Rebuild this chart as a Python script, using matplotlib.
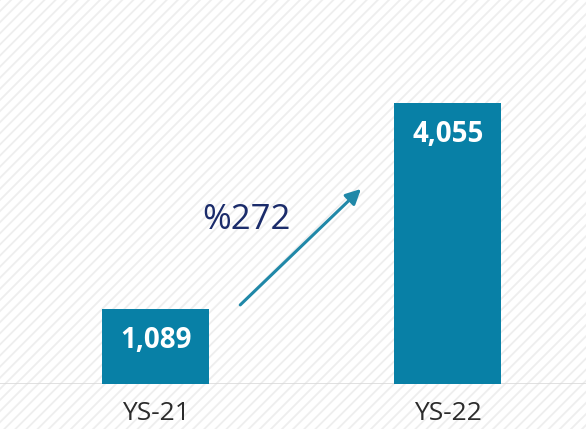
import matplotlib.pyplot as plt
from matplotlib.patches import Rectangle

plt.rcParams["font.family"] = ["Open Sans", "DejaVu Sans"]
plt.rcParams["hatch.linewidth"] = 1.3
plt.rcParams["hatch.color"] = "#eeeeee"

categories = ["YS-21", "YS-22"]
values = [1089, 4055]
value_labels = ["1,089", "4,055"]
growth_label = "%272"

BAR_COLOR = "#0880a6"
ARROW_COLOR = "#2088a8"
TEXT_NAVY = "#1b2c6b"


def main() -> None:
    fig = plt.figure(figsize=(5.86, 4.29), dpi=100)

    # striped background
    bg = Rectangle((0, 0), 1, 1, transform=fig.transFigure, facecolor="white",
                   edgecolor="#eeeeee", hatch="///", linewidth=0, zorder=-10)
    fig.patches.append(bg)

    ax = fig.add_axes([0, 45 / 429, 1, 384 / 429])
    ax.set_facecolor("none")

    x = list(range(len(categories)))
    bars = ax.bar(x, values, width=0.366, color=BAR_COLOR, zorder=3)

    ax.set_xlim(-0.532, 1.472)
    ax.set_ylim(0, 5541)

    for bar, label in zip(bars, value_labels):
        ax.annotate(label, (bar.get_x() + bar.get_width() / 2, bar.get_height()),
                    xytext=(0, -23), textcoords="offset points",
                    ha="center", va="center", color="white",
                    fontsize=20, fontweight="bold", zorder=4)

    ax.axhline(0, color="#d8d8d8", linewidth=1.8, zorder=2)

    ax.set_xticks(x)
    ax.set_xticklabels(categories, fontsize=19, color="#2b2b2b")
    ax.tick_params(axis="x", length=0, pad=12)
    ax.set_yticks([])
    for spine in ax.spines.values():
        spine.set_visible(False)

    ax.annotate("", xy=(0.616, 0.508), xytext=(0.41, 0.206),
                xycoords="axes fraction", textcoords="axes fraction",
                arrowprops=dict(arrowstyle="-|>,head_length=0.9,head_width=0.45",
                                color=ARROW_COLOR, lw=2.2, shrinkA=0, shrinkB=0))
    ax.text(0.42, 0.428, growth_label, transform=ax.transAxes,
            ha="center", va="center", fontsize=25, color=TEXT_NAVY)

    fig.savefig("out.png", dpi=100)
    plt.close(fig)


if __name__ == "__main__":
    main()
